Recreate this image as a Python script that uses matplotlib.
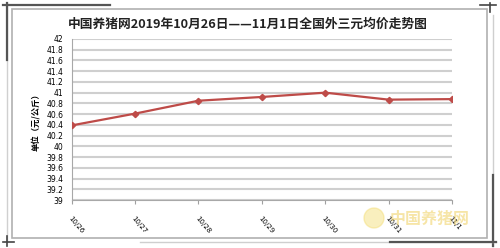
import matplotlib.pyplot as plt
import matplotlib.patches as mpatches

plt.rcParams['font.family'] = ['Noto Sans CJK SC', 'DejaVu Sans']

dates = ['10/26', '10/27', '10/28', '10/29', '10/30', '10/31', '11/1']
prices = [40.39, 40.61, 40.85, 40.92, 41.0, 40.87, 40.88]
yticks = [39, 39.2, 39.4, 39.6, 39.8, 40, 40.2, 40.4, 40.6, 40.8,
          41, 41.2, 41.4, 41.6, 41.8, 42]

W, H = 500, 248
fig = plt.figure(figsize=(5, 2.48), dpi=100)
fig.patch.set_facecolor('white')


def line(x0, y0, x1, y1, color, lw):
    # pixel coords, y from the top
    fig.add_artist(plt.Line2D([x0 / W, x1 / W], [1 - y0 / H, 1 - y1 / H],
                              transform=fig.transFigure, color=color, lw=lw))


# chart frame with shadow lines
fig.patches.append(mpatches.Rectangle((12 / W, 1 - 238 / H), 475 / W, 229 / H,
                                      transform=fig.transFigure, fill=False,
                                      edgecolor='#b0b0b0', lw=1.2))
line(7, 3, 7, 242, '#d0d0d0', 1.0)
line(7, 3, 7, 60, '#555555', 1.6)
line(3, 5, 110, 5, '#555555', 1.6)
line(3, 242, 14, 242, '#444444', 1.2)
line(7, 236, 7, 246, '#444444', 1.2)
line(493, 15, 493, 246, '#cfcfcf', 1.0)
line(493, 175, 493, 246, '#555555', 1.6)
line(140, 242, 496, 242, '#cfcfcf', 1.0)
line(390, 242, 496, 242, '#555555', 1.6)
line(490, 3, 490, 12, '#444444', 1.2)
line(480, 5, 496, 5, '#444444', 1.2)

ax = fig.add_axes([71.7 / W, 1 - 200 / H, 380.3 / W, 161 / H])
x = list(range(len(dates)))
ax.plot(x, prices, color='#BE4B48', lw=1.6, marker='D', markersize=3.2,
        markeredgecolor='#BE4B48', markerfacecolor='#BE4B48', zorder=3)

ax.set_xlim(0, len(dates) - 1)
ax.set_ylim(39, 42)
ax.set_yticks(yticks)
ax.set_yticklabels(['%g' % v for v in yticks], fontsize=5.5,
                   family='DejaVu Sans')
ax.set_xticks(x)
ax.set_xticklabels(dates, fontsize=5, rotation=-50, ha='left',
                   rotation_mode='anchor', family='DejaVu Sans')
ax.tick_params(axis='y', length=0, pad=6)
ax.tick_params(axis='x', length=3, color='#a0a0a0', direction='out', pad=8)
ax.grid(axis='y', color='#cfcfcf', lw=1.5)
ax.set_axisbelow(True)
for s in ['top', 'right']:
    ax.spines[s].set_visible(False)
ax.spines['left'].set_color('#a8a8a8')
ax.spines['bottom'].set_color('#a8a8a8')

fig.text(0.496, 1 - 24 / H, '中国养猪网2019年10月26日——11月1日全国外三元均价走势图',
         ha='center', va='center', fontsize=9.2, fontweight='bold',
         color='#222222')
fig.text(37 / W, 1 - 120 / H, '单位（元/公斤）', ha='center', va='center',
         rotation=90, fontsize=6, fontweight='bold')

# watermark
fig.patches.append(mpatches.Ellipse((374 / W, 1 - 218 / H), 20 / W, 20 / H,
                                    transform=fig.transFigure,
                                    color='#f3dc70', alpha=0.45))
fig.text(430 / W, 1 - 219 / H, '中国养猪网', ha='center', va='center',
         fontsize=11.5, fontweight='bold', color='#f0d060', alpha=0.55)

fig.savefig('out.png', dpi=100)
